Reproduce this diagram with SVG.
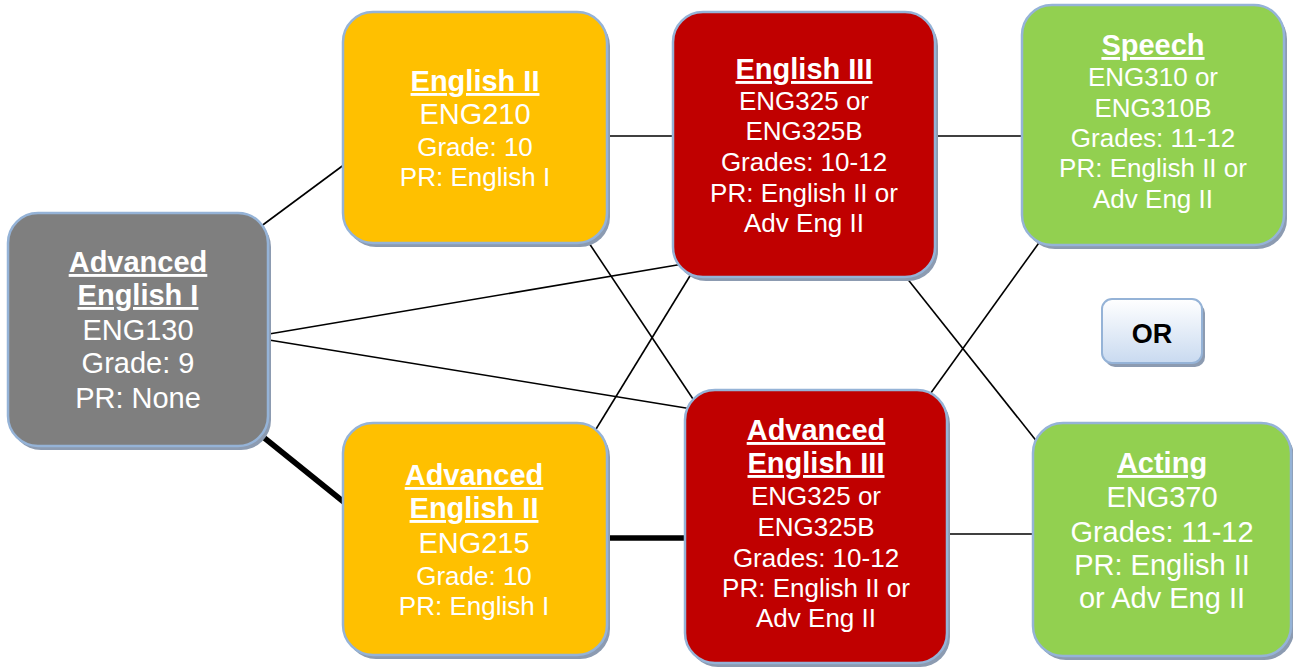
<svg xmlns="http://www.w3.org/2000/svg" width="1293" height="669" viewBox="0 0 1293 669">
<defs>
<linearGradient id="orGrad" x1="0" y1="0" x2="0" y2="1">
<stop offset="0" stop-color="#FFFFFF"/>
<stop offset="1" stop-color="#C9DAF0"/>
</linearGradient>
<style>
.shadow{fill:#8C9BB1;}
.box{stroke:#95B3D7;stroke-width:2.5;}
.gray{fill:#7F7F7F;}
.yellow{fill:#FFC000;}
.red{fill:#C00000;}
.green{fill:#92D050;}
text{font-family:"Liberation Sans",Arial,sans-serif;fill:#FFFFFF;text-anchor:middle;}
.t{font-weight:bold;text-decoration:underline;font-size:29px;}
.l{font-size:29px;}
.s{font-size:26px;}
.thin{stroke:#000;stroke-width:1.6;fill:none;}
.thick{stroke:#000;stroke-width:5.5;fill:none;}
</style>
</defs>
<rect width="1293" height="669" fill="#FFFFFF"/>
<g id="connectors">
<line class="thin" x1="260" y1="227" x2="345" y2="164"/>
<line class="thin" x1="607" y1="136" x2="673" y2="136"/>
<line class="thin" x1="269" y1="334" x2="683" y2="264"/>
<line class="thin" x1="269" y1="340" x2="692" y2="409"/>
<line class="thin" x1="587" y1="240" x2="697" y2="405"/>
<line class="thin" x1="593" y1="434" x2="693" y2="271"/>
<line class="thin" x1="935" y1="136" x2="1022" y2="136"/>
<line class="thin" x1="906" y1="277" x2="1038" y2="443"/>
<line class="thin" x1="928" y1="397" x2="1041" y2="240"/>
<line class="thin" x1="947" y1="534" x2="1033" y2="534"/>
<line class="thick" x1="257" y1="432" x2="345" y2="503"/>
<line class="thick" x1="607" y1="538" x2="686" y2="538"/>
</g>
<g id="adv-english-1">
<rect class="shadow" x="11" y="217" width="260" height="233" rx="30"/>
<rect class="box gray" x="8" y="213" width="260" height="233" rx="30"/>
<text class="t" x="138" y="272">Advanced</text>
<text class="t" x="138" y="305">English I</text>
<text class="l" x="138" y="340">ENG130</text>
<text class="l" x="138" y="373">Grade: 9</text>
<text class="l" x="138" y="408">PR: None</text>
</g>
<g id="english-2">
<rect class="shadow" x="346" y="16" width="264" height="231" rx="30"/>
<rect class="box yellow" x="343" y="12" width="264" height="231" rx="30"/>
<text class="t" x="475" y="91">English II</text>
<text class="l" x="475" y="124">ENG210</text>
<text class="s" x="475" y="156">Grade: 10</text>
<text class="s" x="475" y="186">PR: English I</text>
</g>
<g id="english-3">
<rect class="shadow" x="676" y="16" width="262" height="265" rx="30"/>
<rect class="box red" x="673" y="12" width="262" height="265" rx="30"/>
<text class="t" x="804" y="79">English III</text>
<text class="s" x="804" y="110">ENG325 or</text>
<text class="s" x="804" y="140">ENG325B</text>
<text class="s" x="804" y="171">Grades: 10-12</text>
<text class="s" x="804" y="202">PR: English II or</text>
<text class="s" x="804" y="232">Adv Eng II</text>
</g>
<g id="speech">
<rect class="shadow" x="1025" y="9" width="262" height="240" rx="30"/>
<rect class="box green" x="1022" y="5" width="262" height="240" rx="30"/>
<text class="t" x="1153" y="55">Speech</text>
<text class="s" x="1153" y="86">ENG310 or</text>
<text class="s" x="1153" y="117">ENG310B</text>
<text class="s" x="1153" y="147">Grades: 11-12</text>
<text class="s" x="1153" y="177">PR: English II or</text>
<text class="s" x="1153" y="208">Adv Eng II</text>
</g>
<g id="adv-english-2">
<rect class="shadow" x="346" y="427" width="264" height="232" rx="30"/>
<rect class="box yellow" x="343" y="423" width="264" height="232" rx="30"/>
<text class="t" x="474" y="485">Advanced</text>
<text class="t" x="474" y="518">English II</text>
<text class="l" x="474" y="553">ENG215</text>
<text class="s" x="474" y="585">Grade: 10</text>
<text class="s" x="474" y="615">PR: English I</text>
</g>
<g id="adv-english-3">
<rect class="shadow" x="688" y="394" width="262" height="273" rx="30"/>
<rect class="box red" x="685" y="390" width="262" height="273" rx="30"/>
<text class="t" x="816" y="440">Advanced</text>
<text class="t" x="816" y="473">English III</text>
<text class="s" x="816" y="505">ENG325 or</text>
<text class="s" x="816" y="536">ENG325B</text>
<text class="s" x="816" y="567">Grades: 10-12</text>
<text class="s" x="816" y="597">PR: English II or</text>
<text class="s" x="816" y="627">Adv Eng II</text>
</g>
<g id="acting">
<rect class="shadow" x="1036" y="427" width="258" height="233" rx="30"/>
<rect class="box green" x="1033" y="423" width="258" height="233" rx="30"/>
<text class="t" x="1162" y="473">Acting</text>
<text class="l" x="1162" y="507">ENG370</text>
<text class="l" x="1162" y="542">Grades: 11-12</text>
<text class="l" x="1162" y="575">PR: English II</text>
<text class="l" x="1162" y="608">or Adv Eng II</text>
</g>
<g id="or">
<rect class="shadow" x="1105" y="303" width="100" height="64" rx="10"/>
<rect x="1102" y="299" width="100" height="64" rx="10" fill="url(#orGrad)" stroke="#95B3D7" stroke-width="2"/>
<text x="1152" y="343" style="fill:#000;font-weight:bold;font-size:27px;">OR</text>
</g>
</svg>
